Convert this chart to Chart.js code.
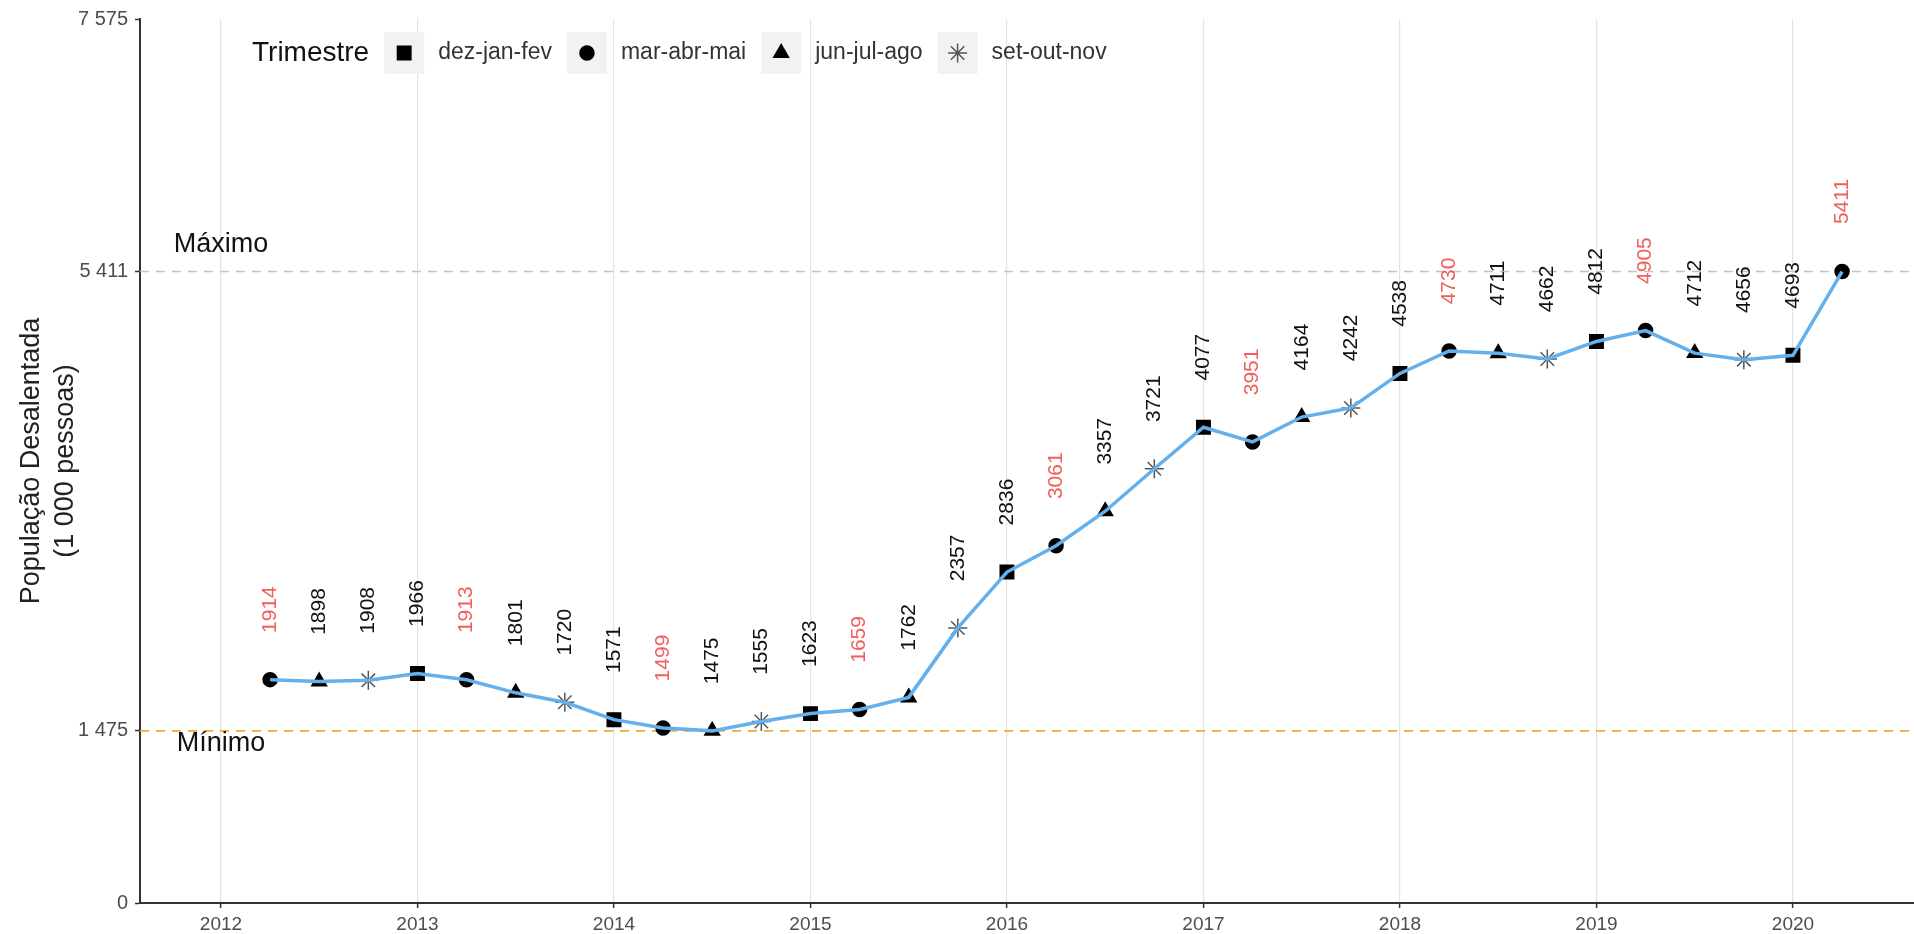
<!DOCTYPE html>
<html>
<head>
<meta charset="utf-8">
<script src="https://cdn.jsdelivr.net/npm/chart.js@4/dist/chart.umd.min.js"></script>
<style>
  html, body { margin: 0; padding: 0; background: #fff; }
  canvas { display: block; }
</style>
</head>
<body>
<canvas id="grafico" width="1914" height="934"></canvas>
<script>
// trimestres móveis (ponto central em fração do ano)
const tempo = [
    2012.25, 2012.5, 2012.75, 2013,
    2013.25, 2013.5, 2013.75, 2014,
    2014.25, 2014.5, 2014.75, 2015,
    2015.25, 2015.5, 2015.75, 2016,
    2016.25, 2016.5, 2016.75, 2017,
    2017.25, 2017.5, 2017.75, 2018,
    2018.25, 2018.5, 2018.75, 2019,
    2019.25, 2019.5, 2019.75, 2020,
    2020.25
];
const trimestre = [
    'mar-abr-mai', 'jun-jul-ago', 'set-out-nov', 'dez-jan-fev',
    'mar-abr-mai', 'jun-jul-ago', 'set-out-nov', 'dez-jan-fev',
    'mar-abr-mai', 'jun-jul-ago', 'set-out-nov', 'dez-jan-fev',
    'mar-abr-mai', 'jun-jul-ago', 'set-out-nov', 'dez-jan-fev',
    'mar-abr-mai', 'jun-jul-ago', 'set-out-nov', 'dez-jan-fev',
    'mar-abr-mai', 'jun-jul-ago', 'set-out-nov', 'dez-jan-fev',
    'mar-abr-mai', 'jun-jul-ago', 'set-out-nov', 'dez-jan-fev',
    'mar-abr-mai', 'jun-jul-ago', 'set-out-nov', 'dez-jan-fev',
    'mar-abr-mai'
];
// população desalentada (1 000 pessoas)
const desalentados = [
    1914, 1898, 1908, 1966,
    1913, 1801, 1720, 1571,
    1499, 1475, 1555, 1623,
    1659, 1762, 2357, 2836,
    3061, 3357, 3721, 4077,
    3951, 4164, 4242, 4538,
    4730, 4711, 4662, 4812,
    4905, 4712, 4656, 4693,
    5411
];
const anos = [2012, 2013, 2014, 2015, 2016, 2017, 2018, 2019, 2020];
const yTicks = [0, 1475, 5411, 7575];
const maximo = 5411;
const minimo = 1475;
const legendaTrimestres = ['dez-jan-fev', 'mar-abr-mai', 'jun-jul-ago', 'set-out-nov'];

const xMin = 2011.588, xMax = 2020.616;
const FONTE = '"Liberation Sans", Arial, sans-serif';

const estilo = {
    'dez-jan-fev': {pointStyle: 'rect', radius: 9.5},
    'mar-abr-mai': {pointStyle: 'circle', radius: 7},
    'jun-jul-ago': {pointStyle: 'triangle', radius: 8.5},
    'set-out-nov': {pointStyle: 'star', radius: 9.5}
};

const pontos = tempo.map((t, i) => ({x: t, y: desalentados[i]}));
const fmt = v => String(v).replace(/\B(?=(\d{3})+(?!\d))/g, ' ');

// rótulos, anotações e legenda desenhados por cima
const extras = {
    id: 'extras',
    afterDatasetsDraw(chart) {
        const {ctx, scales: {x, y}} = chart;
        ctx.save();

        // valores rotacionados acima de cada ponto
        ctx.font = '21px ' + FONTE;
        ctx.textAlign = 'center';
        ctx.textBaseline = 'middle';
        pontos.forEach((p, i) => {
            const px = x.getPixelForValue(p.x);
            const py = y.getPixelForValue(p.y + 600);
            ctx.save();
            ctx.translate(px, py);
            ctx.rotate(-Math.PI / 2);
            ctx.fillStyle = trimestre[i] === 'mar-abr-mai' ? '#F0605D' : '#111';
            ctx.fillText(String(p.y), 0, 0);
            ctx.restore();
        });

        // Máximo / Mínimo
        ctx.font = '27px ' + FONTE;
        ctx.fillStyle = '#111';
        ctx.fillText('Máximo', x.getPixelForValue(2012), y.getPixelForValue(maximo + 235));
        ctx.fillText('Mínimo', x.getPixelForValue(2012), y.getPixelForValue(minimo - 110));

        // legenda
        let lx = 252;
        const ly = 53;
        ctx.textAlign = 'left';
        ctx.font = '28px ' + FONTE;
        ctx.fillStyle = '#111';
        ctx.fillText('Trimestre', lx, ly);
        lx += ctx.measureText('Trimestre').width + 35;
        legendaTrimestres.forEach(nome => {
            ctx.fillStyle = '#F2F2F2';
            ctx.fillRect(lx - 20, ly - 21, 40, 42);
            ctx.fillStyle = '#000';
            ctx.strokeStyle = nome === 'set-out-nov' ? '#555' : '#000';
            ctx.lineWidth = 1.5;
            Chart.helpers.drawPoint(ctx, {...estilo[nome], borderWidth: 1.5, rotation: 0}, lx, ly);
            lx += 34;
            ctx.font = '23px ' + FONTE;
            ctx.fillStyle = '#333';
            ctx.fillText(nome, lx, ly);
            lx += ctx.measureText(nome).width + 35;
        });

        ctx.restore();
    }
};

new Chart(document.getElementById('grafico'), {
    type: 'scatter',
    data: {
        datasets: [
            {
                data: pontos,
                pointStyle: trimestre.map(t => estilo[t].pointStyle),
                pointRadius: trimestre.map(t => estilo[t].radius),
                backgroundColor: '#000',
                borderColor: trimestre.map(t => t === 'set-out-nov' ? '#555' : '#000'),
                borderWidth: 1.5,
                showLine: false,
                order: 2
            },
            {
                type: 'line',
                data: pontos,
                borderColor: '#64B0EC',
                borderWidth: 3.5,
                pointRadius: 0,
                tension: 0,
                order: 1
            },
            {
                type: 'line',
                data: [{x: xMin, y: maximo}, {x: xMax, y: maximo}],
                borderColor: '#C4C4C4',
                borderWidth: 1.6,
                borderDash: [9, 7],
                pointRadius: 0,
                order: 3
            },
            {
                type: 'line',
                data: [{x: xMin, y: minimo}, {x: xMax, y: minimo}],
                borderColor: '#F2A93B',
                borderWidth: 1.6,
                borderDash: [9, 7],
                pointRadius: 0,
                order: 3
            }
        ]
    },
    options: {
        responsive: false,
        devicePixelRatio: 1,
        animation: false,
        layout: {autoPadding: false, padding: {top: 18, left: 0, right: 0, bottom: 0}},
        plugins: {legend: {display: false}, tooltip: {enabled: false}},
        scales: {
            x: {
                type: 'linear',
                min: xMin,
                max: xMax,
                afterBuildTicks: s => { s.ticks = anos.map(v => ({value: v})); },
                afterFit: s => { s.height = 31; s.paddingLeft = 0; s.paddingRight = 0; },
                ticks: {
                    callback: v => String(v),
                    font: {family: FONTE, size: 19},
                    color: '#4D4D4D',
                    padding: 5,
                    maxRotation: 0
                },
                grid: {color: '#E3E3E3', lineWidth: 1.2, tickColor: '#333', tickLength: 5, tickWidth: 1.5},
                border: {display: true, color: '#333', width: 2}
            },
            y: {
                min: 0,
                max: 7575,
                afterBuildTicks: s => { s.ticks = yTicks.map(v => ({value: v})); },
                afterFit: s => { s.width = 140; },
                ticks: {
                    callback: v => fmt(v),
                    font: {family: FONTE, size: 20},
                    color: '#4D4D4D',
                    padding: 7
                },
                grid: {drawOnChartArea: false, tickColor: '#333', tickLength: 5, tickWidth: 1.5},
                border: {display: true, color: '#333', width: 2},
                title: {
                    display: true,
                    text: ['População Desalentada', '(1 000 pessoas)'],
                    font: {family: FONTE, size: 27, lineHeight: 1.25},
                    color: '#222',
                    padding: {top: 15, bottom: 0}
                }
            }
        }
    },
    plugins: [extras]
});
</script>
</body>
</html>
